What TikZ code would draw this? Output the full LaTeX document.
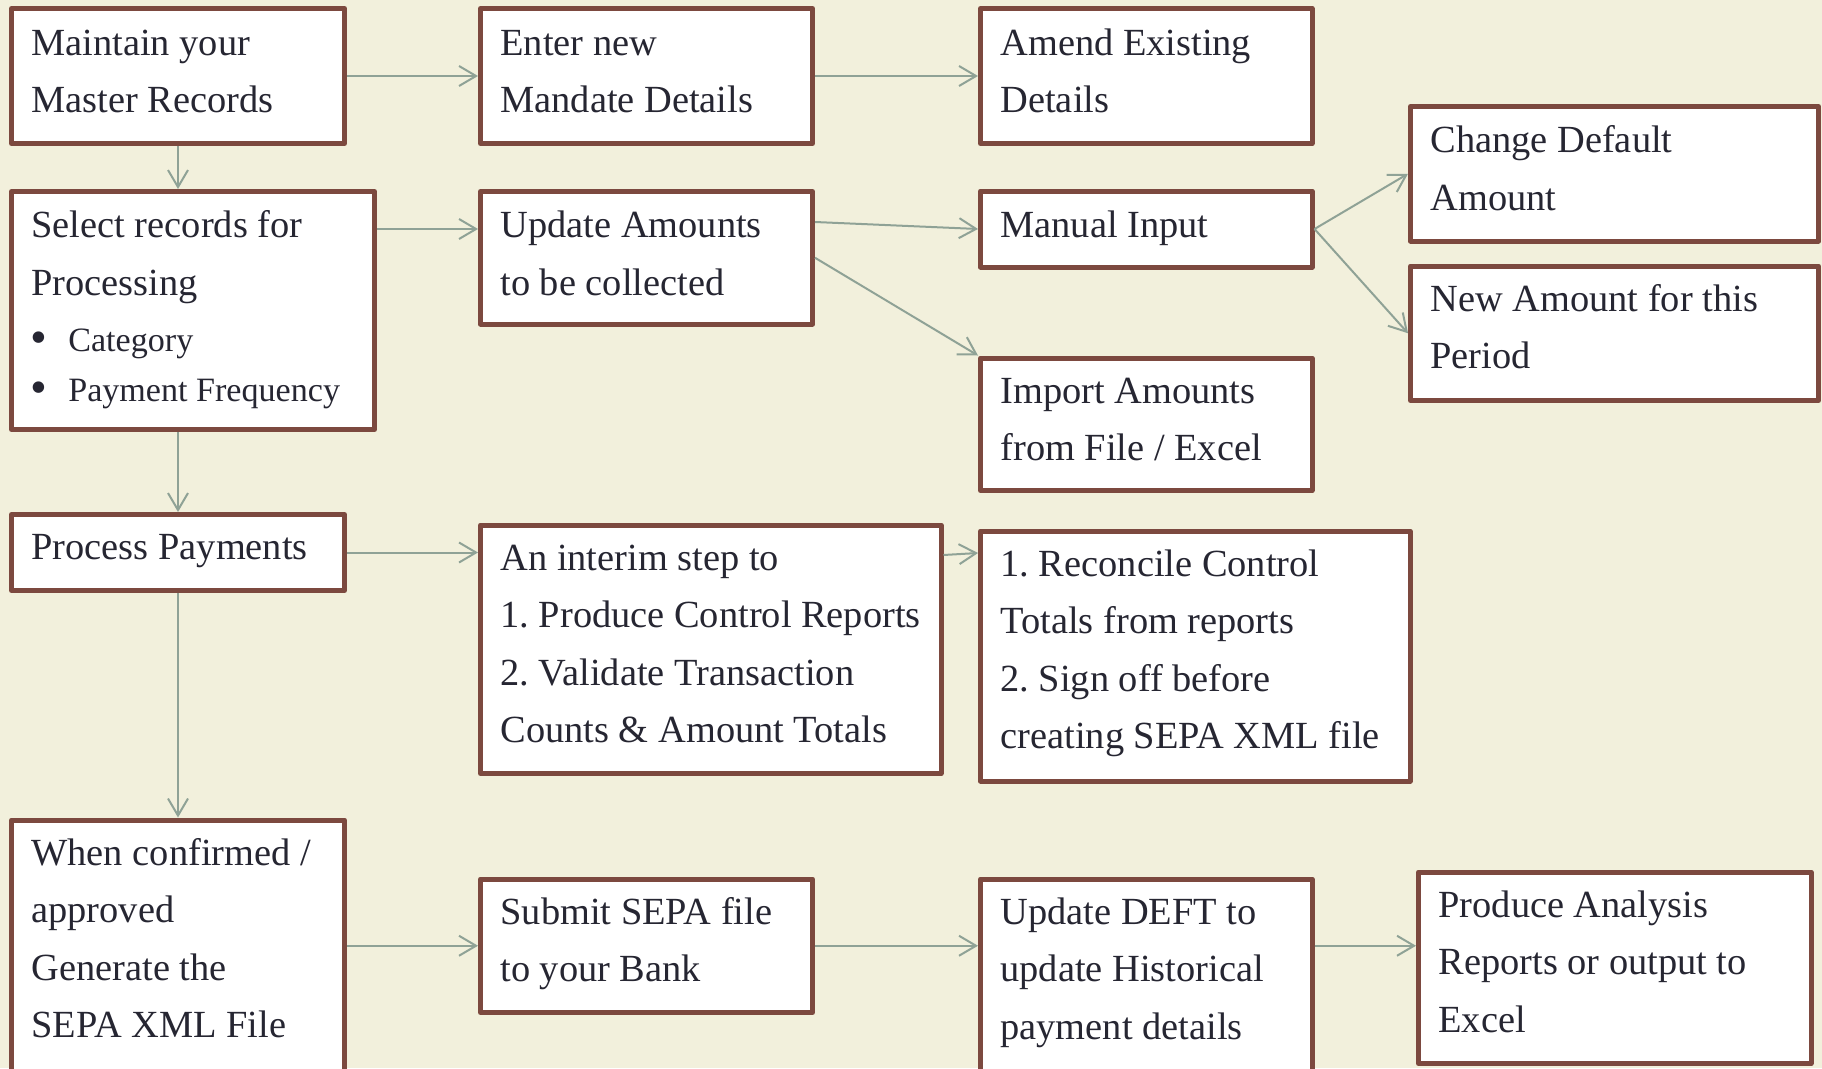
\documentclass[tikz,border=0pt]{standalone}
\usepackage{fontspec}
\setmainfont{Liberation Serif}
\usetikzlibrary{arrows.meta}
\definecolor{bgc}{RGB}{242,240,220}
\definecolor{bordc}{RGB}{124,73,63}
\definecolor{arrc}{RGB}{143,162,150}
\definecolor{txtc}{RGB}{38,38,50}
\newcommand{\bigbullet}{\makebox[36.8pt][l]{\hspace{-1.5pt}\raisebox{-2.3pt}{\fontsize{48pt}{50pt}\selectfont\textbullet}}}
\tikzset{
  procbox/.style={draw=bordc, fill=white, line width=5pt, line join=round,
    anchor=north west, inner xsep=20pt, inner ysep=0pt, align=flush left,
    text=txtc, font=\fontsize{38.4pt}{57.6pt}\selectfont\frenchspacing, text height=45pt},
  arr/.style={draw=arrc, line width=2pt, -{Straight Barb[length=17pt,width=20pt]}}
}
\begin{document}
\begin{tikzpicture}[x=1pt,y=-1pt]
\useasboundingbox (0,0) rectangle (1822,1068);
\clip (0,0) rectangle (1822,1068);
\fill[bgc] (0,0) rectangle (1822,1068);

% row 1
\node[procbox, text width=293pt, text height=46.5pt, text depth=88.5pt] (maint) at (9,6) {Maintain your\\Master Records};
\node[procbox, text width=292pt, text height=46.5pt, text depth=88.5pt] (enter) at (478,6) {Enter new\\Mandate Details};
\node[procbox, text width=291.5pt, text height=46.5pt, text depth=88.5pt] (amend) at (978,6) {Amend Existing\\Details};

% row 2
\node[procbox, text width=323pt, text height=46pt, text depth=192pt] (select) at (9,189)
  {Select records for\\Processing\par\vspace{6pt}%
   {\fontsize{34.1pt}{50pt}\selectfont
    \bigbullet Category\\
    \bigbullet Payment Frequency\par}};
\node[procbox, text width=292pt, text height=46pt, text depth=86.5pt] (update) at (478,189) {Update Amounts\\to be collected};
\node[procbox, text width=291.5pt, text height=46pt, text depth=30pt] (manual) at (978,188.5) {Manual Input};
\node[procbox, text width=368pt, text height=46pt, text depth=88.5pt] (change) at (1408,104) {Change Default\\Amount};
\node[procbox, text width=368pt, text depth=89.5pt] (newamt) at (1408,263.5) {New Amount for this\\Period};
\node[procbox, text width=291.5pt, text depth=87.5pt] (import) at (978,355.5) {Import Amounts\\from File / Excel};

% row 3
\node[procbox, text width=293pt, text depth=31pt] (process) at (9,512) {Process Payments};
\node[procbox, text width=420.5pt, text depth=203.5pt] (interim) at (478,522.5)
  {An interim step to\\\mbox{1. Produce Control Reports}\\2. Validate Transaction\\Counts \& Amount Totals};
\node[procbox, text width=389.5pt, text depth=205pt] (reconcile) at (978,528.5)
  {1. Reconcile Control\\Totals from reports\\2. Sign off before\\\mbox{creating SEPA XML file}};

% row 4
\node[procbox, text width=293pt, text depth=227.5pt] (when) at (9,817.5)
  {When confirmed /\\approved\\Generate the\\SEPA XML File};
\node[procbox, text width=292pt, text depth=88.5pt] (submit) at (478,876.5) {Submit SEPA file\\to your Bank};
\node[procbox, text width=291.5pt, text depth=168.5pt] (deft) at (978,876.5)
  {Update DEFT to\\update Historical\\payment details};
\node[procbox, text width=352.5pt, text depth=146.5pt] (produce) at (1416,869.5)
  {Produce Analysis\\Reports or output to\\Excel};

% connectors
\draw[arr] (maint.east) -- (enter.west);
\draw[arr] (enter.east) -- (amend.west);
\draw[arr] (maint.south) -- (maint.south |- select.north);
\draw[arr] ([yshift=-40pt]select.north east) -- ([yshift=-40pt]update.north west);
\draw[arr] ([yshift=-33pt]update.north east) -- (manual.west);
\draw[arr] (update.east) -- (import.north west);
\draw[arr] (manual.east) -- (change.west);
\draw[arr] (manual.east) -- (newamt.west);
\draw[arr] (process.north |- select.south) -- (process.north);
\draw[arr] (process.east) -- (process.east -| interim.west);
\draw[arr] ([yshift=-32.5pt]interim.north east) -- ([yshift=-24.5pt]reconcile.north west);
\draw[arr] (process.south) -- (when.north);
\draw[arr] (submit.west -| when.east) -- (submit.west);
\draw[arr] (submit.east) -- (submit.east -| deft.west);
\draw[arr] (deft.east |- submit.east) -- (produce.west |- submit.east);
\end{tikzpicture}
\end{document}
